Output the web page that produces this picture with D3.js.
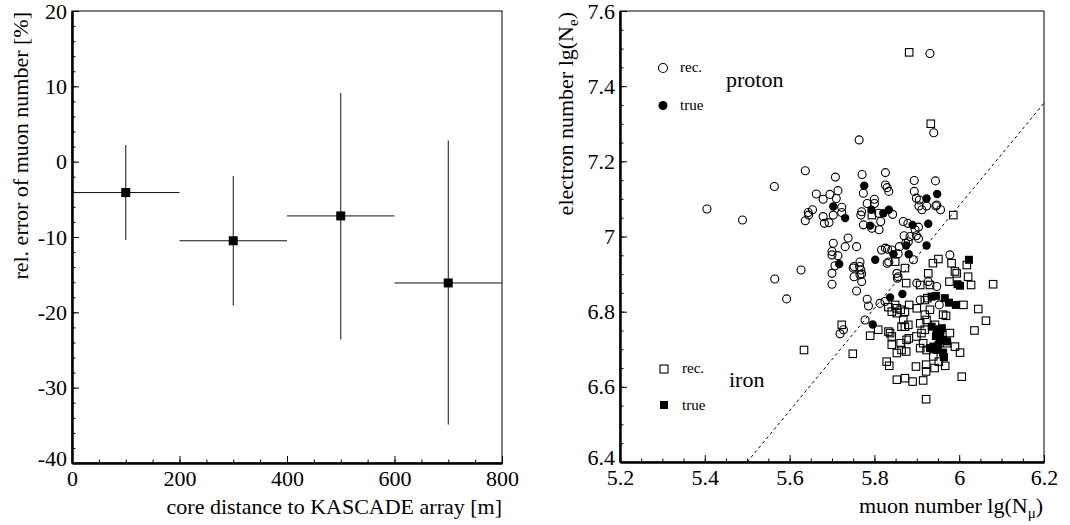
<!DOCTYPE html>
<html>
<head>
<meta charset="utf-8">
<script src="https://cdn.jsdelivr.net/npm/d3@7"></script>
<style>
  body { margin: 0; background: #fff; }
  svg, svg text { font-family: "Liberation Serif", "Times New Roman", serif; }
  svg { display: block; }
</style>
</head>
<body>
<svg id="chart" width="1070" height="525"></svg>
<script>
// left panel: relative error of muon number vs core distance
const distance = [100, 300, 500, 700];
const distHalf = [100, 100, 100, 100];
const relError = [-4.1, -10.5, -7.2, -16.1];
const errHigh = [2.2, -1.9, 9.1, 2.8];
const errLow = [-10.4, -19.1, -23.6, -34.9];
const leftXTicks = [0, 200, 400, 600, 800];
const leftYTicks = [-40, -30, -20, -10, 0, 10, 20];

// right panel: lg(Ne) vs lg(Nmu)
const protonRec = [
  [5.931, 7.487], [5.940, 7.276], [5.764, 7.257], [5.405, 7.073], [5.489, 7.044], [5.564, 7.133], [5.637, 7.175],
  [5.565, 6.887], [5.627, 6.911], [5.593, 6.834], [5.708, 7.158], [5.771, 7.165], [5.826, 7.170], [5.894, 7.149],
  [5.944, 7.148], [5.774, 7.115], [5.826, 7.137], [5.830, 7.130], [5.834, 7.120], [5.663, 7.113], [5.679, 7.099],
  [5.695, 7.112], [5.714, 7.122], [5.710, 7.101], [5.654, 7.071], [5.645, 7.057], [5.637, 7.042], [5.679, 7.053],
  [5.682, 7.035], [5.693, 7.037], [5.703, 7.057], [5.723, 7.078], [5.770, 7.066], [5.768, 7.057], [5.783, 7.088],
  [5.800, 7.099], [5.800, 7.088], [5.810, 7.062], [5.843, 7.059], [5.774, 7.031], [5.794, 7.022], [5.811, 7.018],
  [5.815, 7.040], [5.879, 7.035], [5.904, 7.025], [5.894, 7.120], [5.899, 7.102], [5.905, 7.081], [5.923, 7.081],
  [5.945, 7.081], [5.956, 7.071], [5.870, 7.002], [5.874, 6.982], [5.899, 7.002], [5.738, 6.996], [5.703, 6.982],
  [5.731, 6.973], [5.758, 6.973], [5.700, 6.960], [5.700, 6.951], [5.714, 6.949], [5.826, 6.969], [5.831, 6.966],
  [5.859, 6.973], [5.830, 6.929], [5.856, 6.954], [5.700, 6.902], [5.750, 6.916], [5.766, 6.932], [5.768, 6.911],
  [5.766, 6.898], [5.700, 6.873], [5.758, 6.855], [5.783, 6.833], [5.786, 6.815], [5.752, 6.920], [5.765, 6.920],
  [5.752, 6.893], [5.770, 6.900], [5.770, 6.880], [5.854, 6.889], [5.813, 6.822], [5.825, 6.827], [5.778, 6.778],
  [5.719, 6.741], [5.727, 6.752], [5.900, 6.876], [5.927, 6.880], [5.947, 6.867], [5.953, 6.818], [5.978, 6.951],
  [5.908, 6.831], [5.853, 6.902], [5.892, 6.938], [5.834, 6.932], [5.868, 7.040], [5.884, 7.000], [5.896, 7.018],
  [5.904, 6.995], [5.906, 7.097], [5.912, 7.071], [5.947, 7.084], [5.817, 6.964], [5.841, 6.964], [5.880, 6.986],
  [5.856, 6.893], [5.644, 7.064], [5.723, 7.064], [5.707, 6.922],
];
const protonTrue = [
  [5.776, 7.135], [5.703, 7.080], [5.731, 7.049], [5.793, 7.071], [5.821, 7.062], [5.834, 7.071], [5.790, 7.029],
  [5.923, 7.101], [5.948, 7.113], [5.890, 7.031], [5.927, 7.034], [5.875, 6.976], [5.923, 6.976], [5.802, 6.938],
  [5.845, 6.953], [5.881, 6.953], [5.717, 6.927], [5.837, 6.838], [5.866, 6.847], [5.796, 6.766],
];
const ironRec = [
  [5.882, 7.490], [5.933, 7.300], [5.986, 7.057], [5.794, 7.057], [5.723, 6.765], [5.634, 6.698], [5.749, 6.688],
  [5.790, 6.736], [5.809, 6.752], [5.849, 6.933], [5.872, 6.916], [5.875, 6.876], [5.908, 6.871], [5.931, 6.871],
  [5.927, 6.902], [5.938, 6.929], [5.951, 6.940], [5.982, 6.929], [5.990, 6.907], [5.994, 6.902], [5.977, 6.880],
  [6.021, 6.893], [6.028, 6.871], [6.018, 6.924], [6.080, 6.873], [6.045, 6.807], [6.063, 6.776], [6.036, 6.750],
  [6.006, 6.627], [5.922, 6.567], [5.853, 6.619], [5.872, 6.623], [5.890, 6.614], [5.915, 6.617], [5.829, 6.667],
  [5.835, 6.656], [5.898, 6.654], [5.922, 6.659], [5.942, 6.650], [5.922, 6.641], [5.967, 6.656], [6.002, 6.691],
  [5.971, 6.716], [5.990, 6.707], [5.978, 6.743], [5.962, 6.792], [5.969, 6.789], [5.853, 6.690], [5.875, 6.694],
  [5.864, 6.698], [5.841, 6.712], [5.862, 6.716], [5.837, 6.743], [5.841, 6.734], [5.833, 6.747], [5.864, 6.760],
  [5.872, 6.760], [5.880, 6.765], [5.868, 6.778], [5.881, 6.729], [5.908, 6.703], [5.915, 6.716], [5.923, 6.698],
  [5.899, 6.734], [5.911, 6.743], [5.919, 6.752], [5.853, 6.809], [5.862, 6.805], [5.872, 6.800], [5.849, 6.818],
  [5.882, 6.818], [5.900, 6.809], [5.919, 6.831], [5.925, 6.836], [5.931, 6.805], [5.919, 6.792], [5.833, 6.812],
  [5.841, 6.800], [5.853, 6.796], [5.876, 6.725], [5.908, 6.769], [5.923, 6.778], [5.943, 6.765], [5.955, 6.752],
  [5.939, 6.681], [5.952, 6.667], [6.010, 6.818],
];
const ironTrue = [
  [6.023, 6.938], [5.996, 6.873], [6.002, 6.869], [5.935, 6.840], [5.945, 6.842], [5.966, 6.836], [5.976, 6.824],
  [5.992, 6.818], [5.935, 6.760], [5.947, 6.752], [5.959, 6.756], [5.955, 6.743], [5.962, 6.725], [5.971, 6.721],
  [5.939, 6.707], [5.951, 6.712], [5.947, 6.698], [5.931, 6.703], [5.964, 6.679], [5.962, 6.691], [5.955, 6.730],
  [5.945, 6.735],
];
const cutLine = [[5.5, 6.4], [6.2, 7.355]];
const rightXTicks = [5.2, 5.4, 5.6, 5.8, 6, 6.2];
const rightYTicks = [6.4, 6.6, 6.8, 7, 7.2, 7.4, 7.6];

const svg = d3.select('#chart');
const fmt = (d) => String(d);
const FONT = '"Liberation Serif", "Times New Roman", serif';

function drawAxes(x, y, major, minorX, minorY) {
  const [x0, x1] = x.range();
  const [y0, y1] = y.range();
  svg.append('rect').attr('x', x0).attr('y', y1).attr('width', x1 - x0).attr('height', y0 - y1)
    .attr('fill', 'none').attr('stroke', '#000').attr('stroke-width', 1);
  const addAxis = (axis, tx, ty, labels) => {
    const g = svg.append('g').attr('transform', `translate(${tx},${ty})`).call(axis)
      .attr('font-family', null).attr('font-size', 22);
    g.select('.domain').attr('stroke-width', 2);
    g.selectAll('.tick line').attr('stroke-width', 1);
    g.selectAll('text').attr('fill', '#000').style('font-family', FONT);
    if (!labels) g.selectAll('text').remove();
    return g;
  };
  addAxis(d3.axisBottom(x).tickValues(minorX).tickSize(-3.5).tickSizeOuter(0), 0, y0, false);
  addAxis(d3.axisLeft(y).tickValues(minorY).tickSize(-3.5).tickSizeOuter(0), x0, 0, false);
  addAxis(d3.axisBottom(x).tickValues(major.x).tickFormat(fmt).tickSize(-7).tickSizeOuter(0).tickPadding(7), 0, y0, true);
  const ya = addAxis(d3.axisLeft(y).tickValues(major.y).tickFormat(fmt).tickSize(-7).tickSizeOuter(0).tickPadding(5), x0, 0, true);
  // lowest y label sits a little higher so it clears the first x label
  ya.selectAll('.tick text').filter((d) => d === y.domain()[0]).attr('dy', '0.1em');
}

// ---- left panel ----
const xL = d3.scaleLinear([0, 800], [72, 502]);
const yL = d3.scaleLinear([-40, 20], [463, 11]);
drawAxes(xL, yL, { x: leftXTicks, y: leftYTicks }, d3.range(0, 801, 50), d3.range(-40, 21, 2));

const pts = distance.map((d, i) => ({ x: d, hw: distHalf[i], y: relError[i], hi: errHigh[i], lo: errLow[i] }));
const eg = svg.append('g').attr('stroke', '#111').attr('stroke-width', 1);
eg.selectAll('line.h').data(pts).join('line').attr('class', 'h')
  .attr('x1', (d) => xL(d.x - d.hw)).attr('x2', (d) => xL(d.x + d.hw)).attr('y1', (d) => yL(d.y)).attr('y2', (d) => yL(d.y));
eg.selectAll('line.v').data(pts).join('line').attr('class', 'v')
  .attr('x1', (d) => xL(d.x)).attr('x2', (d) => xL(d.x)).attr('y1', (d) => yL(d.hi)).attr('y2', (d) => yL(d.lo));
svg.append('g').selectAll('rect').data(pts).join('rect')
  .attr('x', (d) => xL(d.x) - 4.5).attr('y', (d) => yL(d.y) - 4.5).attr('width', 9).attr('height', 9).attr('fill', '#000');

svg.append('text').attr('transform', 'translate(28,12) rotate(-90)').attr('text-anchor', 'end')
  .attr('font-size', 22).text('rel. error of muon number [%]');
svg.append('text').attr('x', 502).attr('y', 514).attr('text-anchor', 'end')
  .attr('font-size', 22).text('core distance to KASCADE array [m]');

// ---- right panel ----
const xR = d3.scaleLinear([5.2, 6.2], [620, 1044]);
const yR = d3.scaleLinear([6.4, 7.6], [462, 11]);
drawAxes(xR, yR, { x: rightXTicks, y: rightYTicks }, d3.range(0, 21).map((i) => 5.2 + i * 0.05), d3.range(0, 25).map((i) => 6.4 + i * 0.05));

svg.append('line').attr('x1', xR(cutLine[0][0])).attr('y1', yR(cutLine[0][1])).attr('x2', xR(cutLine[1][0])).attr('y2', yR(cutLine[1][1]))
  .attr('stroke', '#000').attr('stroke-width', 1).attr('stroke-dasharray', '3,3');

const sq = 7.5;
svg.append('g').selectAll('circle').data(protonRec).join('circle')
  .attr('cx', (d) => xR(d[0])).attr('cy', (d) => yR(d[1])).attr('r', 4).attr('fill', 'none').attr('stroke', '#000').attr('stroke-width', 1.1);
svg.append('g').selectAll('rect').data(ironRec).join('rect')
  .attr('x', (d) => xR(d[0]) - sq / 2).attr('y', (d) => yR(d[1]) - sq / 2).attr('width', sq).attr('height', sq)
  .attr('fill', 'none').attr('stroke', '#000').attr('stroke-width', 1.1);
svg.append('g').selectAll('circle').data(protonTrue).join('circle')
  .attr('cx', (d) => xR(d[0])).attr('cy', (d) => yR(d[1])).attr('r', 4.2).attr('fill', '#000');
svg.append('g').selectAll('rect').data(ironTrue).join('rect')
  .attr('x', (d) => xR(d[0]) - 4).attr('y', (d) => yR(d[1]) - 4).attr('width', 8).attr('height', 8).attr('fill', '#000');

// legends
const leg = svg.append('g');
leg.append('circle').attr('cx', 663).attr('cy', 68).attr('r', 4.5).attr('fill', 'none').attr('stroke', '#000').attr('stroke-width', 1.1);
leg.append('text').attr('x', 680).attr('y', 72).attr('font-size', 15).text('rec.');
leg.append('circle').attr('cx', 663).attr('cy', 105.5).attr('r', 4.5).attr('fill', '#000');
leg.append('text').attr('x', 680).attr('y', 110).attr('font-size', 15).text('true');
leg.append('text').attr('x', 726).attr('y', 87).attr('font-size', 22).text('proton');
leg.append('rect').attr('x', 660).attr('y', 365).attr('width', 8).attr('height', 8).attr('fill', 'none').attr('stroke', '#000').attr('stroke-width', 1.1);
leg.append('text').attr('x', 682).attr('y', 373).attr('font-size', 15).text('rec.');
leg.append('rect').attr('x', 660).attr('y', 401).attr('width', 8).attr('height', 8).attr('fill', '#000');
leg.append('text').attr('x', 682).attr('y', 410).attr('font-size', 15).text('true');
leg.append('text').attr('x', 729).attr('y', 387).attr('font-size', 22).text('iron');

const yTitle = svg.append('text').attr('transform', 'translate(573,12) rotate(-90)').attr('text-anchor', 'end').attr('font-size', 22);
yTitle.append('tspan').text('electron number lg(N');
yTitle.append('tspan').attr('font-size', 15).attr('dy', 5).text('e');
yTitle.append('tspan').attr('dy', -5).text(')');
const xTitle = svg.append('text').attr('x', 1043).attr('y', 513).attr('text-anchor', 'end').attr('font-size', 22);
xTitle.append('tspan').text('muon number lg(N');
xTitle.append('tspan').attr('font-size', 15).attr('dy', 5).text('μ');
xTitle.append('tspan').attr('dy', -5).text(')');
</script>
</body>
</html>
